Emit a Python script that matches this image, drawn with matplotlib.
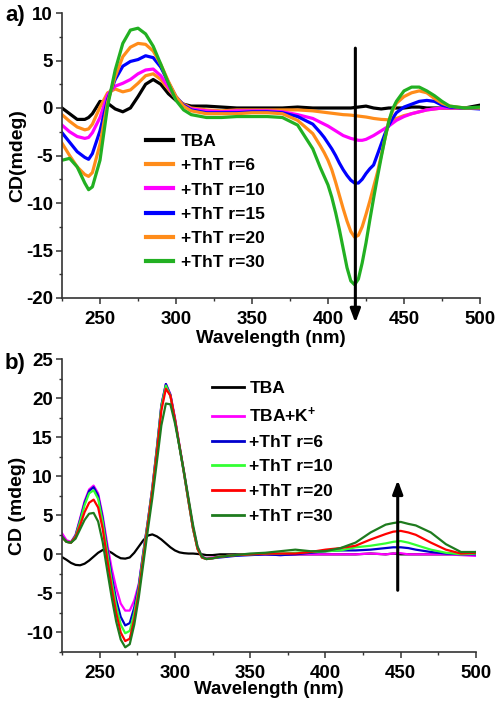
import matplotlib
matplotlib.use("Agg")
import matplotlib.pyplot as plt
from matplotlib.ticker import MultipleLocator

plt.rcParams['font.family'] = ['Liberation Sans', 'DejaVu Sans']
plt.rcParams['font.weight'] = 'bold'
plt.rcParams['mathtext.fontset'] = 'custom'
plt.rcParams['mathtext.rm'] = 'Liberation Sans:bold'
plt.rcParams['mathtext.default'] = 'regular'
plt.rcParams['axes.unicode_minus'] = False

# ---------------- Panel a data ----------------
wl_a = [225, 230, 235, 240, 242.5, 245, 250, 255, 260, 265, 270, 275, 280, 285, 290, 295,
        300, 305, 310, 320, 330, 340, 350, 360, 370, 380, 390,
        395, 397.5, 400, 402.5, 405, 407.5, 410, 412.5, 415, 417.5, 420, 422.5, 425,
        427.5, 430, 432.5, 435, 437.5, 440, 442.5, 445,
        450, 455, 460, 465, 470, 475, 480, 490, 500]
a_tba = [0.0, -0.6, -1.2, -1.2, -1.0, -0.6, 0.7, 0.5, -0.1, -0.4, 0.0, 1.2, 2.5, 3.0, 2.5, 1.5,
         0.8, 0.4, 0.2, 0.2, 0.1, 0.0, 0.0, 0.0, 0.0, 0.1, 0.0,
         0.0, 0.0, 0.0, 0.0, 0.0, 0.0, 0.0, 0.0, 0.0, 0.05, 0.1, 0.15, 0.2,
         0.1, 0.0, -0.05, -0.1, -0.05, 0.0, 0.0, 0.0,
         0.0, 0.1, 0.1, 0.0, 0.0, 0.0, 0.0, 0.0, 0.3]
a_r6 = [-0.7, -1.4, -2.0, -2.3, -2.2, -1.7, 0.1, 1.6, 2.0, 1.7, 1.9, 2.6, 3.4, 3.6, 3.0, 2.0,
        1.0, 0.4, 0.0, -0.2, -0.3, -0.2, -0.2, -0.2, -0.2, -0.2, -0.3,
        -0.4, -0.45, -0.5, -0.55, -0.6, -0.65, -0.7, -0.72, -0.75, -0.8, -0.85, -0.9, -0.95,
        -1.02, -1.1, -1.15, -1.2, -1.22, -1.25, -1.2, -1.1,
        -0.8, -0.6, -0.4, -0.2, -0.1, 0.0, 0.0, 0.0, 0.0]
a_r10 = [-1.8, -2.5, -3.0, -3.2, -3.1, -2.6, -1.0, 1.4, 2.3, 2.6, 3.0, 3.6, 4.0, 4.1, 3.4, 2.2,
         1.0, 0.3, -0.1, -0.3, -0.4, -0.3, -0.3, -0.3, -0.4, -0.7, -1.1,
         -1.5, -1.7, -1.9, -2.15, -2.4, -2.65, -2.9, -3.05, -3.2, -3.3, -3.4, -3.4, -3.3,
         -3.1, -2.9, -2.65, -2.4, -2.15, -1.9, -1.6, -1.3,
         -0.9, -0.6, -0.4, -0.2, -0.1, 0.0, 0.0, 0.0, 0.0]
a_r15 = [-2.6, -3.6, -4.6, -5.2, -5.4, -4.8, -2.4, 0.9, 3.0, 4.4, 4.9, 5.1, 5.5, 5.3, 4.3, 2.7,
         1.2, 0.3, -0.2, -0.5, -0.5, -0.5, -0.4, -0.4, -0.5, -0.9, -1.7,
         -2.6, -3.1, -3.7, -4.3, -5.0, -5.8, -6.5, -7.1, -7.6, -7.9, -7.9, -7.5, -6.9,
         -6.4, -6.0, -4.9, -3.8, -2.7, -1.8, -1.1, -0.5,
         0.1, 0.4, 0.7, 0.8, 0.7, 0.3, 0.1, 0.0, -0.1]
a_r20 = [-3.7, -5.0, -6.2, -7.0, -7.2, -6.8, -3.8, 0.6, 3.3, 5.4, 6.4, 6.8, 6.7, 6.0, 4.6, 2.8,
         1.2, 0.2, -0.3, -0.6, -0.6, -0.6, -0.5, -0.5, -0.6, -1.3, -2.7,
         -4.0, -4.7, -5.5, -6.5, -7.8, -9.2, -10.6, -11.9, -13.0, -13.6, -13.4, -12.5, -11.2,
         -9.8, -8.3, -6.8, -5.0, -3.2, -1.4, -0.3, 0.5,
         1.2, 1.6, 1.8, 1.6, 1.0, 0.5, 0.2, 0.0, 0.0]
a_r30 = [-5.5, -5.3, -6.2, -7.9, -8.6, -8.3, -5.5, 0.2, 4.0, 6.8, 8.2, 8.4, 7.8, 6.5, 4.6, 2.6,
         0.8, -0.2, -0.7, -1.0, -1.0, -0.9, -0.9, -0.9, -1.0, -1.8, -4.3,
         -6.3, -7.2, -8.1, -9.4, -11.0, -12.8, -14.8, -16.8, -18.2, -18.6, -18.0, -16.3, -14.2,
         -11.8, -9.5, -7.3, -5.2, -3.2, -1.4, -0.1, 0.7,
         1.8, 2.2, 2.2, 1.8, 1.3, 0.7, 0.2, 0.0, 0.1]

labels_a = ['TBA', '+ThT r=6', '+ThT r=10', '+ThT r=15', '+ThT r=20', '+ThT r=30']
colors_a = ['#000000', '#FF8C1A', '#FF00FF', '#0000FF', '#FF8C1A', '#22B022']

# ---------------- Panel b data ----------------
wl_b = [225, 228, 231, 234, 237, 240, 243, 246, 249, 252, 255, 258, 261, 264, 267, 270,
        273, 276, 279, 282, 285, 288, 291, 294, 297, 300, 303, 306, 309, 312, 315, 318, 321,
        325, 330, 340, 350, 360, 370, 380, 390, 400, 410, 420, 430, 440, 445, 450, 455, 460,
        470, 480, 490, 500]
b_tba = [-0.35, -0.7, -1.1, -1.35, -1.4, -1.2, -0.8, -0.3, 0.2, 0.55, 0.5, 0.2, -0.2, -0.5, -0.55, -0.4,
         0.2, 1.0, 1.8, 2.4, 2.55, 2.3, 1.9, 1.4, 0.9, 0.5, 0.25, 0.15, 0.1, 0.1, 0.05, 0.0, -0.1,
         -0.1, 0.0, 0.0, 0.0, 0.0, 0.0, 0.0, 0.0, 0.0, 0.0, 0.0, 0.1, 0.0, 0.1, 0.0, 0.0, 0.0,
         0.0, 0.0, 0.0, 0.3]
b_k = [2.7, 1.8, 1.6, 2.5, 4.6, 6.8, 8.3, 8.8, 7.8, 5.0, 1.4, -1.8, -4.3, -6.3, -7.2, -7.2,
       -5.9, -3.8, 0.3, 4.2, 8.5, 13.5, 19.0, 21.8, 20.5, 17.5, 14.0, 10.6, 7.0, 3.5, 1.0, -0.3, -0.5,
       -0.4, -0.3, -0.1, 0.0, 0.0, -0.1, 0.0, 0.0, 0.0, 0.0, 0.0, 0.1, 0.0, 0.1, 0.15, 0.0, 0.0,
       0.0, 0.0, -0.1, -0.2]
b_r6 = [2.3, 1.6, 1.5, 2.4, 4.4, 6.6, 8.1, 8.6, 7.5, 4.6, 0.8, -2.8, -5.8, -8.0, -9.1, -8.8,
        -6.8, -4.0, 0.2, 4.2, 8.5, 13.6, 19.1, 21.8, 20.4, 17.3, 13.8, 10.4, 6.8, 3.3, 0.8, -0.4, -0.6,
        -0.5, -0.4, -0.2, -0.1, 0.0, -0.1, 0.0, 0.2, 0.4, 0.5, 0.5, 0.6, 0.8, 0.9, 0.9, 0.8, 0.6,
        0.3, 0.1, 0.0, 0.0]
b_r10 = [2.2, 1.6, 1.5, 2.3, 4.2, 6.3, 7.8, 8.2, 7.1, 4.2, 0.3, -3.4, -6.6, -9.0, -10.1, -9.8,
         -7.5, -4.3, 0.0, 4.1, 8.4, 13.4, 18.9, 21.6, 20.3, 17.2, 13.8, 10.4, 6.8, 3.3, 0.7, -0.4, -0.6,
         -0.5, -0.3, -0.1, 0.0, 0.1, 0.1, 0.2, 0.3, 0.4, 0.5, 0.9, 1.1, 1.4, 1.6, 1.7, 1.5, 1.2,
         0.6, 0.2, 0.0, 0.1]
b_r20 = [2.2, 1.6, 1.5, 2.2, 3.7, 5.4, 6.6, 7.0, 6.0, 3.3, -0.6, -4.3, -7.5, -10.0, -11.1, -10.8,
         -8.3, -4.8, -0.5, 3.8, 8.1, 13.0, 18.4, 21.2, 20.3, 17.3, 13.9, 10.5, 6.9, 3.4, 0.7, -0.4, -0.6,
         -0.5, -0.3, -0.1, 0.0, 0.1, 0.1, 0.1, 0.3, 0.6, 0.8, 1.1, 1.9, 2.6, 2.9, 3.0, 2.8, 2.5,
         1.5, 0.6, 0.1, 0.2]
b_r30 = [2.2, 1.6, 1.5, 2.0, 3.2, 4.4, 5.2, 5.3, 4.2, 1.6, -2.0, -5.5, -8.6, -10.9, -11.9, -11.5,
         -9.0, -5.5, -1.2, 3.1, 7.2, 11.8, 16.5, 19.3, 19.2, 16.8, 13.8, 10.6, 7.2, 3.8, 1.0, -0.3, -0.6,
         -0.5, -0.3, -0.1, 0.1, 0.2, 0.4, 0.6, 0.4, 0.4, 0.8, 1.5, 2.8, 3.8, 4.0, 4.15, 3.9, 3.7,
         2.8, 1.3, 0.3, 0.3]

labels_b = ['TBA', 'TBA+K$^{+}$', '+ThT r=6', '+ThT r=10', '+ThT r=20', '+ThT r=30']
colors_b = ['#000000', '#FF00FF', '#0000CD', '#33FF33', '#FF0000', '#1E7B1E']

W, H = 496, 702
fig = plt.figure(figsize=(W / 100, H / 100), dpi=100)

def px_rect(l, t, r, b):
    return [l / W, 1 - b / H, (r - l) / W, (b - t) / H]

def style(ax):
    for s in ['top', 'right']:
        ax.spines[s].set_visible(False)
    for s in ['left', 'bottom']:
        ax.spines[s].set_linewidth(1.2)
        ax.spines[s].set_color('#333333')
    ax.tick_params(which='major', direction='out', length=4, width=1.1, labelsize=13.5,
                   color='#333333')
    ax.tick_params(axis='x', which='major', pad=5)
    ax.tick_params(axis='y', which='major', pad=2.5)
    ax.tick_params(which='minor', direction='out', length=2.5, width=1.0, color='#333333')
    for lab in ax.get_xticklabels() + ax.get_yticklabels():
        lab.set_fontweight('bold')

# ---------------- Panel a ----------------
axa = fig.add_axes(px_rect(62, 13, 480, 298))
series_a = [a_tba, a_r6, a_r10, a_r15, a_r20, a_r30]
for ys, c, lab in zip(series_a, colors_a, labels_a):
    axa.plot(wl_a, ys, color=c, lw=2.3, label=lab, solid_joinstyle='round')
axa.set_xlim(225, 500)
axa.set_ylim(-20, 10)
axa.xaxis.set_major_locator(MultipleLocator(50))
axa.xaxis.set_minor_locator(MultipleLocator(25))
axa.yaxis.set_major_locator(MultipleLocator(5))
axa.yaxis.set_minor_locator(MultipleLocator(2.5))
style(axa)
axa.set_xlabel('Wavelength (nm)', fontsize=13.5, fontweight='bold', labelpad=2)
axa.set_ylabel('CD(mdeg)', fontsize=14, fontweight='bold', labelpad=0)
axa.annotate('', xy=(418, -22.6), xytext=(418, 6.3),
             arrowprops=dict(arrowstyle='-|>,head_length=0.8,head_width=0.3', lw=2.2,
                             color='black', shrinkA=0, shrinkB=0),
             annotation_clip=False)
leg_a = axa.legend(loc='upper left', bbox_to_anchor=(146 / W, 1 - 134 / H),
                   bbox_transform=fig.transFigure, frameon=False, fontsize=12.5,
                   handlelength=1.55, handletextpad=0.45, labelspacing=0.52,
                   borderpad=0, borderaxespad=0)
for t in leg_a.get_texts():
    t.set_fontweight('bold')
for l in leg_a.get_lines():
    l.set_linewidth(3)
fig.text(5 / W, 1 - 16 / H, 'a)', fontsize=16, fontweight='bold', va='center', ha='left')

# ---------------- Panel b ----------------
axb = fig.add_axes(px_rect(62, 359, 476, 652))
series_b = [b_tba, b_k, b_r6, b_r10, b_r20, b_r30]
for ys, c, lab in zip(series_b, colors_b, labels_b):
    axb.plot(wl_b, ys, color=c, lw=1.6, label=lab, solid_joinstyle='round')
axb.set_xlim(225, 500)
axb.set_ylim(-12.5, 25)
axb.xaxis.set_major_locator(MultipleLocator(50))
axb.xaxis.set_minor_locator(MultipleLocator(25))
axb.yaxis.set_major_locator(MultipleLocator(5))
axb.yaxis.set_minor_locator(MultipleLocator(2.5))
style(axb)
axb.set_xlabel('Wavelength (nm)', fontsize=13.5, fontweight='bold', labelpad=0)
axb.set_ylabel('CD (mdeg)', fontsize=14, fontweight='bold', labelpad=0)
axb.annotate('', xy=(448, 9.5), xytext=(448, -4.6),
             arrowprops=dict(arrowstyle='-|>,head_length=0.8,head_width=0.3', lw=2.2,
                             color='black', shrinkA=0, shrinkB=0),
             annotation_clip=False)
leg_b = axb.legend(loc='upper left', bbox_to_anchor=(212 / W, 1 - 381 / H),
                   bbox_transform=fig.transFigure, frameon=False, fontsize=12.5,
                   handlelength=1.85, handletextpad=0.3, labelspacing=0.55,
                   borderpad=0, borderaxespad=0)
for t in leg_b.get_texts():
    t.set_fontweight('bold')
for l in leg_b.get_lines():
    l.set_linewidth(2)
fig.text(5 / W, 1 - 363 / H, 'b)', fontsize=16, fontweight='bold', va='center', ha='left')

fig.savefig('out.png', dpi=100)
